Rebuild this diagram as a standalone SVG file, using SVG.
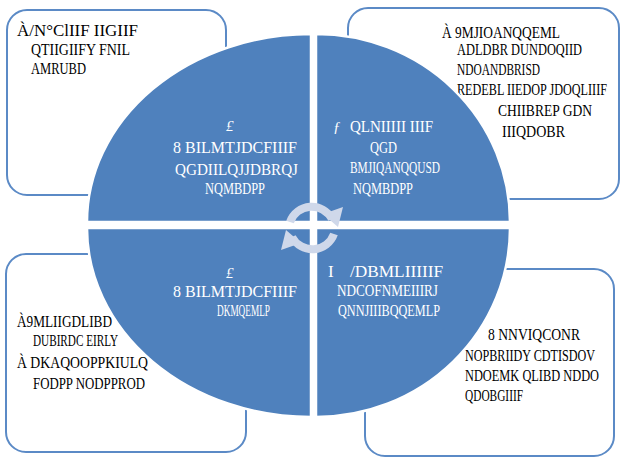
<svg xmlns="http://www.w3.org/2000/svg" width="623" height="460" viewBox="0 0 623 460">
<style>
.box{fill:#ffffff;stroke:#5b8ac6;stroke-width:2}
.q{fill:#4f81bd;stroke:#ffffff;stroke-width:2.5}
.t{font-family:"Liberation Serif",serif;font-size:17px;fill:#000}
.w{font-family:"Liberation Serif",serif;font-size:17px;fill:#fff}
.s{font-family:"Liberation Serif",serif;font-size:15px;fill:#fff;font-style:italic}
.arc{fill:none;stroke:#cfd8ea;stroke-width:8}
.ah{fill:#cfd8ea}
</style>
<rect width="623" height="460" fill="#ffffff"/>
<g id="box-tl">
<rect class="box" x="7" y="10" width="219" height="185" rx="20"/>
<text class="t" x="17" y="36" textLength="121" lengthAdjust="spacingAndGlyphs">À/N°ClIIF IIGIIF</text>
<text class="t" x="31" y="55" textLength="99" lengthAdjust="spacingAndGlyphs">QTIIGIIFY FNIL</text>
<text class="t" x="31" y="74" textLength="55" lengthAdjust="spacingAndGlyphs">AMRUBD</text>
</g>
<g id="box-tr">
<rect class="box" x="348" y="8" width="271" height="191" rx="20"/>
<text class="t" x="442" y="38" textLength="118" lengthAdjust="spacingAndGlyphs">À 9MJIOANQQEML</text>
<text class="t" x="457" y="55" textLength="125" lengthAdjust="spacingAndGlyphs">ADLDBR DUNDOQIID</text>
<text class="t" x="457" y="75" textLength="83" lengthAdjust="spacingAndGlyphs">NDOANDBRISD</text>
<text class="t" x="457" y="95" textLength="150" lengthAdjust="spacingAndGlyphs">REDEBL IIEDOP JDOQLIIIF</text>
<text class="t" x="498" y="116" textLength="94" lengthAdjust="spacingAndGlyphs">CHIIBREP GDN</text>
<text class="t" x="502" y="137" textLength="63" lengthAdjust="spacingAndGlyphs">IIIQDOBR</text>
</g>
<g id="box-bl">
<rect class="box" x="6" y="254" width="240" height="198" rx="20"/>
<text class="t" x="17" y="327" textLength="95" lengthAdjust="spacingAndGlyphs">À9MLIIGDLIBD</text>
<text class="t" x="33" y="346" textLength="85" lengthAdjust="spacingAndGlyphs">DUBIRDC EIRLY</text>
<text class="t" x="17" y="368" textLength="131" lengthAdjust="spacingAndGlyphs">À DKAQOOPPKIULQ</text>
<text class="t" x="33" y="389" textLength="112" lengthAdjust="spacingAndGlyphs">FODPP NODPPROD</text>
</g>
<g id="box-br">
<rect class="box" x="365" y="269" width="249" height="187" rx="20"/>
<text class="t" x="488" y="340" textLength="92" lengthAdjust="spacingAndGlyphs">8 NNVIQCONR</text>
<text class="t" x="465" y="361" textLength="130" lengthAdjust="spacingAndGlyphs">NOPBRIIDY CDTISDOV</text>
<text class="t" x="465" y="381" textLength="134" lengthAdjust="spacingAndGlyphs">NDOEMK QLIBD NDDO</text>
<text class="t" x="465" y="401" textLength="58" lengthAdjust="spacingAndGlyphs">QDOBGIIIF</text>
</g>
<g id="quad-tl">
<path class="q" d="M311,222 L87,222 A224,188 0 0 1 311,34 Z"/>
<text class="s" x="226" y="131">£</text>
<text class="w" x="173" y="153" textLength="124" lengthAdjust="spacingAndGlyphs">8 BILMTJDCFIIIF</text>
<text class="w" x="175" y="175" textLength="123" lengthAdjust="spacingAndGlyphs">QGDIILQJJDBRQJ</text>
<text class="w" x="205" y="194" textLength="60" lengthAdjust="spacingAndGlyphs">NQMBDPP</text>
</g>
<g id="quad-tr">
<path class="q" d="M316,222 L316,34 A194,188 0 0 1 510,222 Z"/>
<text class="s" x="333" y="132">ƒ</text>
<text class="w" x="350" y="132" textLength="83" lengthAdjust="spacingAndGlyphs">QLNIIIII IIIF</text>
<text class="w" x="370" y="153" textLength="27" lengthAdjust="spacingAndGlyphs">QGD</text>
<text class="w" x="350" y="173" textLength="90" lengthAdjust="spacingAndGlyphs">BMJIQANQQUSD</text>
<text class="w" x="353" y="194" textLength="60" lengthAdjust="spacingAndGlyphs">NQMBDPP</text>
</g>
<g id="quad-bl">
<path class="q" d="M311,228 L311,417 A224,189 0 0 1 87,228 Z"/>
<text class="s" x="226" y="278">£</text>
<text class="w" x="173" y="297" textLength="124" lengthAdjust="spacingAndGlyphs">8 BILMTJDCFIIIF</text>
<text class="w" x="217" y="316" textLength="53" lengthAdjust="spacingAndGlyphs">DKMQEMLP</text>
</g>
<g id="quad-br">
<path class="q" d="M316,228 L510,228 A194,189 0 0 1 316,417 Z"/>
<text class="w" x="328" y="277">I</text>
<text class="w" x="350" y="277" textLength="93" lengthAdjust="spacingAndGlyphs">/DBMLIIIIIF</text>
<text class="w" x="337" y="296" textLength="101" lengthAdjust="spacingAndGlyphs">NDCOFNMEIIIRJ</text>
<text class="w" x="338" y="316" textLength="102" lengthAdjust="spacingAndGlyphs">QNNJIIIBQQEMLP</text>
</g>
<g id="connectors">
<path class="arc" d="M290,222 A23,23 0 0 1 332,219"/>
<polygon class="ah" points="323,214 343,207 338,227"/>
<path class="arc" d="M334,234 A23,23 0 0 1 292,237"/>
<polygon class="ah" points="301,243 281,250 286,230"/>
</g>
</svg>
